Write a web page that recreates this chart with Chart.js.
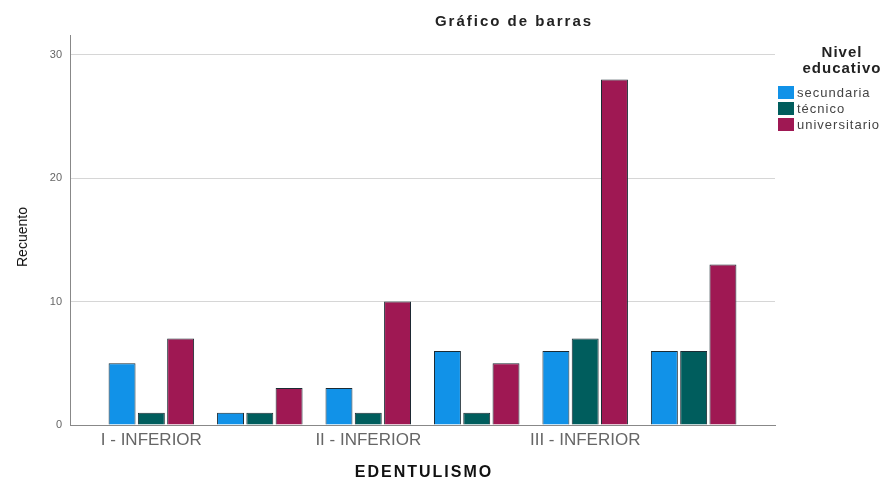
<!DOCTYPE html>
<html>
<head>
<meta charset="utf-8">
<script src="https://cdn.jsdelivr.net/npm/chart.js@4/dist/chart.umd.min.js"></script>
<style>
  body { margin: 0; background: #fff; font-family: 'Liberation Sans', Arial, sans-serif; }
  #wrap { position: relative; width: 885px; height: 481px; }
  canvas { position: absolute; left: 0; top: 0; }
  .title { position: absolute; left: 514px; top: 12px; transform: translateX(-50%); font-weight: bold; font-size: 15px; letter-spacing: 2px; color: #222; white-space: nowrap; }
  .xtitle { position: absolute; left: 424px; top: 463px; transform: translateX(-50%); font-weight: bold; font-size: 16px; letter-spacing: 2px; color: #111; }
  .ytitle { position: absolute; left: 22px; top: 237px; transform: translate(-50%, -50%) rotate(-90deg); font-size: 14px; color: #111; }
  .legend { position: absolute; left: 778px; top: 44px; font-size: 13px; letter-spacing: 1px; color: #444; }
  .legend .lt { font-weight: bold; font-size: 15px; letter-spacing: 1px; color: #222; text-align: center; line-height: 16px; width: 128px; margin-bottom: 8px; }
  .legend .it { display: flex; align-items: center; height: 16px; }
  .legend .sw { width: 16px; height: 13px; margin-right: 3px; }
</style>
</head>
<body>
<div id="wrap">
  <canvas id="chart" width="885" height="481"></canvas>
  <div class="title">Gráfico de barras</div>
  <div class="xtitle">EDENTULISMO</div>
  <div class="ytitle">Recuento</div>
  <div class="legend" id="legend"></div>
</div>
<script>
// categories (only every second label is shown in the reference)
const categories = ['I - INFERIOR', '', 'II - INFERIOR', '', 'III - INFERIOR', ''];
const seriesNames = ['secundaria', 'técnico', 'universitario'];
const secundaria = [5, 1, 3, 6, 6, 6];
const tecnico = [1, 1, 1, 1, 7, 6];
const universitario = [7, 3, 10, 5, 28, 13];
const colors = ['#1192e8', '#005d5d', '#9f1853'];
const yTicks = [0, 10, 20, 30];

const allSeries = [secundaria, tecnico, universitario];

// legend in html (two-line title)
const legend = document.getElementById('legend');
legend.innerHTML = '<div class="lt">Nivel<br>educativo</div>' +
  seriesNames.map((n, i) =>
    `<div class="it"><span class="sw" style="background:${colors[i]}"></span>${n}</div>`
  ).join('');

new Chart(document.getElementById('chart'), {
  type: 'bar',
  data: {
    datasets: allSeries.map((vals, i) => ({
      label: seriesNames[i],
      data: vals.map((v, j) => ({ x: j + 1, y: v })),
      backgroundColor: colors[i],
      borderColor: '#1b2b33',
      borderWidth: 1,
      categoryPercentage: 0.81,
      barPercentage: 0.92
    }))
  },
  options: {
    responsive: false,
    animation: false,
    layout: { padding: { left: 0, right: 110, top: 35, bottom: 0 } },
    plugins: {
      legend: { display: false },
      tooltip: { enabled: false }
    },
    scales: {
      x: {
        type: 'linear',
        offset: false,
        min: 0.25,
        max: 6.75,
        afterBuildTicks: s => { s.ticks = categories.map((c, i) => ({ value: i + 1 })); },
        ticks: {
          autoSkip: false,
          maxRotation: 0,
          color: '#666',
          font: { family: "'Liberation Sans', Arial, sans-serif", size: 17 },
          padding: 5,
          callback: v => categories[v - 1] || ''
        },
        grid: { display: false, drawTicks: false },
        border: { color: '#888', width: 1 },
        afterFit: s => { s.height = 56; }
      },
      y: {
        min: 0,
        max: 31.6,
        afterBuildTicks: s => { s.ticks = yTicks.map(v => ({ value: v })); },
        ticks: {
          color: '#666',
          font: { family: "'Liberation Sans', Arial, sans-serif", size: 11 },
          padding: 8
        },
        grid: { color: '#d6d6d6', drawTicks: false },
        border: { color: '#888', width: 1 },
        afterFit: s => { s.width = 70; }
      }
    }
  }
});
</script>
</body>
</html>
